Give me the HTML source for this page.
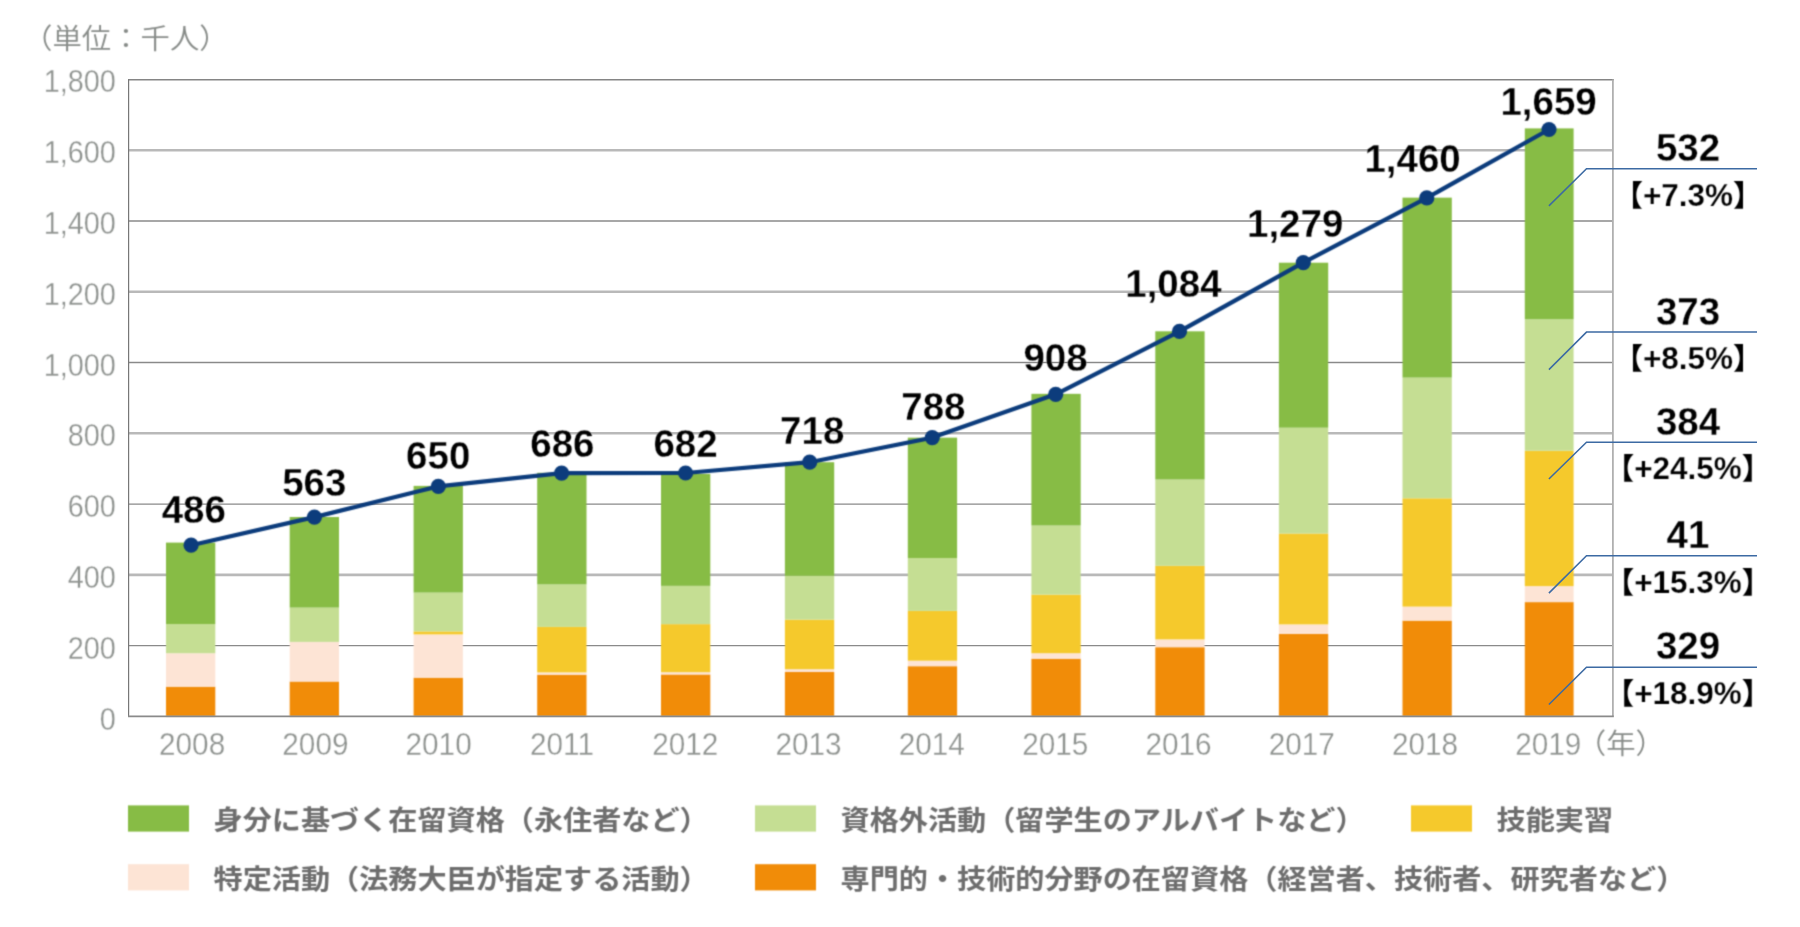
<!DOCTYPE html>
<html lang="ja"><head><meta charset="utf-8">
<style>html,body{margin:0;padding:0;background:#fff}body{width:1800px;height:927px;overflow:hidden;font-family:"Liberation Sans", "Noto Sans CJK JP", sans-serif}svg{display:block}text{font-family:"Liberation Sans", "Noto Sans CJK JP", sans-serif}
.ax{font-size:31.5px;font-weight:400;fill:#8e928f;stroke:#fff;stroke-width:.3px}.cj{font-size:29.4px;font-weight:350;fill:#878b88}.tot{font-size:38.5px;font-weight:700;fill:#000;stroke:#fff;stroke-width:.28px}.pct{font-size:29.5px;font-weight:700;fill:#000}.pct tspan{font-size:31.5px;stroke:#fff;stroke-width:.25px}.lg{font-size:29.15px;font-weight:700;fill:#6e6e6e}
</style></head><body>
<svg width="1800" height="927" viewBox="0 0 1800 927">
<defs><filter id="soft" x="0" y="0" width="1800" height="927" filterUnits="userSpaceOnUse" color-interpolation-filters="sRGB"><feConvolveMatrix order="3" kernelMatrix="1 3 1 3 9 3 1 3 1" divisor="25" edgeMode="duplicate" preserveAlpha="false"/></filter></defs>
<rect width="1800" height="927" fill="#fff"/>
<line x1="128.6" x2="1612.9" y1="645.63" y2="645.63" stroke="#8a8a8a" stroke-width="1.4"/>
<line x1="128.6" x2="1612.9" y1="574.86" y2="574.86" stroke="#b9b9b9" stroke-width="2.6"/>
<line x1="128.6" x2="1612.9" y1="504.09" y2="504.09" stroke="#8a8a8a" stroke-width="1.4"/>
<line x1="128.6" x2="1612.9" y1="433.32" y2="433.32" stroke="#b9b9b9" stroke-width="2.6"/>
<line x1="128.6" x2="1612.9" y1="362.55" y2="362.55" stroke="#8a8a8a" stroke-width="1.4"/>
<line x1="128.6" x2="1612.9" y1="291.78" y2="291.78" stroke="#b9b9b9" stroke-width="2.6"/>
<line x1="128.6" x2="1612.9" y1="221.01" y2="221.01" stroke="#8a8a8a" stroke-width="1.4"/>
<line x1="128.6" x2="1612.9" y1="150.24" y2="150.24" stroke="#b9b9b9" stroke-width="2.6"/>
<line x1="128.0" x2="1613.8" y1="79.87" y2="79.87" stroke="#858585" stroke-width="1.5"/>
<line x1="128.6" x2="128.6" y1="79.47" y2="716.40" stroke="#777" stroke-width="1.2"/>
<line x1="1612.9" x2="1612.9" y1="79.47" y2="716.40" stroke="#b0b0b0" stroke-width="1.8"/>
<g filter="url(#soft)">
<rect x="166.0" y="686.70" width="49.3" height="29.70" fill="#f18c08"/>
<rect x="166.0" y="653.20" width="49.3" height="33.50" fill="#fde4d5"/>
<rect x="166.0" y="624.10" width="49.3" height="29.10" fill="#c5de93"/>
<rect x="166.0" y="542.60" width="49.3" height="81.50" fill="#87bc45"/>
<rect x="289.7" y="681.50" width="49.3" height="34.90" fill="#f18c08"/>
<rect x="289.7" y="641.90" width="49.3" height="39.60" fill="#fde4d5"/>
<rect x="289.7" y="607.60" width="49.3" height="34.30" fill="#c5de93"/>
<rect x="289.7" y="517.00" width="49.3" height="90.60" fill="#87bc45"/>
<rect x="413.6" y="677.70" width="49.3" height="38.70" fill="#f18c08"/>
<rect x="413.6" y="634.40" width="49.3" height="43.30" fill="#fde4d5"/>
<rect x="413.6" y="631.40" width="49.3" height="3.00" fill="#f5c92c"/>
<rect x="413.6" y="592.60" width="49.3" height="38.80" fill="#c5de93"/>
<rect x="413.6" y="485.90" width="49.3" height="106.70" fill="#87bc45"/>
<rect x="537.2" y="674.70" width="49.3" height="41.70" fill="#f18c08"/>
<rect x="537.2" y="672.40" width="49.3" height="2.30" fill="#fde4d5"/>
<rect x="537.2" y="626.90" width="49.3" height="45.50" fill="#f5c92c"/>
<rect x="537.2" y="584.40" width="49.3" height="42.50" fill="#c5de93"/>
<rect x="537.2" y="472.80" width="49.3" height="111.60" fill="#87bc45"/>
<rect x="661.0" y="674.45" width="49.3" height="41.95" fill="#f18c08"/>
<rect x="661.0" y="672.20" width="49.3" height="2.25" fill="#fde4d5"/>
<rect x="661.0" y="624.15" width="49.3" height="48.05" fill="#f5c92c"/>
<rect x="661.0" y="585.85" width="49.3" height="38.30" fill="#c5de93"/>
<rect x="661.0" y="473.90" width="49.3" height="111.95" fill="#87bc45"/>
<rect x="784.9" y="671.95" width="49.3" height="44.45" fill="#f18c08"/>
<rect x="784.9" y="669.20" width="49.3" height="2.75" fill="#fde4d5"/>
<rect x="784.9" y="619.60" width="49.3" height="49.60" fill="#f5c92c"/>
<rect x="784.9" y="575.85" width="49.3" height="43.75" fill="#c5de93"/>
<rect x="784.9" y="462.20" width="49.3" height="113.65" fill="#87bc45"/>
<rect x="907.8" y="666.20" width="49.3" height="50.20" fill="#f18c08"/>
<rect x="907.8" y="660.70" width="49.3" height="5.50" fill="#fde4d5"/>
<rect x="907.8" y="610.90" width="49.3" height="49.80" fill="#f5c92c"/>
<rect x="907.8" y="558.10" width="49.3" height="52.80" fill="#c5de93"/>
<rect x="907.8" y="437.65" width="49.3" height="120.45" fill="#87bc45"/>
<rect x="1031.4" y="658.70" width="49.3" height="57.70" fill="#f18c08"/>
<rect x="1031.4" y="653.20" width="49.3" height="5.50" fill="#fde4d5"/>
<rect x="1031.4" y="594.60" width="49.3" height="58.60" fill="#f5c92c"/>
<rect x="1031.4" y="525.50" width="49.3" height="69.10" fill="#c5de93"/>
<rect x="1031.4" y="393.85" width="49.3" height="131.65" fill="#87bc45"/>
<rect x="1155.3" y="647.20" width="49.3" height="69.20" fill="#f18c08"/>
<rect x="1155.3" y="639.40" width="49.3" height="7.80" fill="#fde4d5"/>
<rect x="1155.3" y="565.80" width="49.3" height="73.60" fill="#f5c92c"/>
<rect x="1155.3" y="479.50" width="49.3" height="86.30" fill="#c5de93"/>
<rect x="1155.3" y="331.30" width="49.3" height="148.20" fill="#87bc45"/>
<rect x="1278.9" y="633.90" width="49.3" height="82.50" fill="#f18c08"/>
<rect x="1278.9" y="624.40" width="49.3" height="9.50" fill="#fde4d5"/>
<rect x="1278.9" y="533.50" width="49.3" height="90.90" fill="#f5c92c"/>
<rect x="1278.9" y="427.70" width="49.3" height="105.80" fill="#c5de93"/>
<rect x="1278.9" y="262.70" width="49.3" height="165.00" fill="#87bc45"/>
<rect x="1402.5" y="620.60" width="49.3" height="95.80" fill="#f18c08"/>
<rect x="1402.5" y="606.60" width="49.3" height="14.00" fill="#fde4d5"/>
<rect x="1402.5" y="498.30" width="49.3" height="108.30" fill="#f5c92c"/>
<rect x="1402.5" y="377.60" width="49.3" height="120.70" fill="#c5de93"/>
<rect x="1402.5" y="197.65" width="49.3" height="179.95" fill="#87bc45"/>
<rect x="1524.8" y="602.10" width="48.8" height="114.30" fill="#f18c08"/>
<rect x="1524.8" y="586.10" width="48.8" height="16.00" fill="#fde4d5"/>
<rect x="1524.8" y="450.70" width="48.8" height="135.40" fill="#f5c92c"/>
<rect x="1524.8" y="319.30" width="48.8" height="131.40" fill="#c5de93"/>
<rect x="1524.8" y="128.40" width="48.8" height="190.90" fill="#87bc45"/>
<polyline points="191.1,545.2 314.4,517.1 438.3,486.4 561.6,473.1 685.6,473.0 809.7,462.2 932.3,437.6 1055.7,394.3 1179.5,331.4 1303.3,262.6 1426.8,197.9 1549.0,129.5" fill="none" stroke="#0c3c7c" stroke-width="4.2" stroke-linejoin="round"/>
<circle cx="191.1" cy="545.2" r="7.6" fill="#0c3c7c"/>
<circle cx="314.4" cy="517.1" r="7.6" fill="#0c3c7c"/>
<circle cx="438.3" cy="486.4" r="7.6" fill="#0c3c7c"/>
<circle cx="561.6" cy="473.1" r="7.6" fill="#0c3c7c"/>
<circle cx="685.6" cy="473.0" r="7.6" fill="#0c3c7c"/>
<circle cx="809.7" cy="462.2" r="7.6" fill="#0c3c7c"/>
<circle cx="932.3" cy="437.6" r="7.6" fill="#0c3c7c"/>
<circle cx="1055.7" cy="394.3" r="7.6" fill="#0c3c7c"/>
<circle cx="1179.5" cy="331.4" r="7.6" fill="#0c3c7c"/>
<circle cx="1303.3" cy="262.6" r="7.6" fill="#0c3c7c"/>
<circle cx="1426.8" cy="197.9" r="7.6" fill="#0c3c7c"/>
<circle cx="1549.0" cy="129.5" r="7.6" fill="#0c3c7c"/>
<text class="ax" transform="translate(115.8,730.0) scale(0.915,1)" text-anchor="end">0</text>
<text class="ax" transform="translate(115.8,659.1) scale(0.915,1)" text-anchor="end">200</text>
<text class="ax" transform="translate(115.8,588.2) scale(0.915,1)" text-anchor="end">400</text>
<text class="ax" transform="translate(115.8,517.3) scale(0.915,1)" text-anchor="end">600</text>
<text class="ax" transform="translate(115.8,446.4) scale(0.915,1)" text-anchor="end">800</text>
<text class="ax" transform="translate(115.8,375.5) scale(0.915,1)" text-anchor="end">1,000</text>
<text class="ax" transform="translate(115.8,304.6) scale(0.915,1)" text-anchor="end">1,200</text>
<text class="ax" transform="translate(115.8,233.7) scale(0.915,1)" text-anchor="end">1,400</text>
<text class="ax" transform="translate(115.8,162.8) scale(0.915,1)" text-anchor="end">1,600</text>
<text class="ax" transform="translate(115.8,91.9) scale(0.915,1)" text-anchor="end">1,800</text>
<text class="ax" transform="translate(192.1,754.9) scale(0.944,1)" text-anchor="middle">2008</text>
<text class="ax" transform="translate(315.4,754.9) scale(0.944,1)" text-anchor="middle">2009</text>
<text class="ax" transform="translate(438.6,754.9) scale(0.944,1)" text-anchor="middle">2010</text>
<text class="ax" transform="translate(562.0,754.9) scale(0.944,1)" text-anchor="middle">2011</text>
<text class="ax" transform="translate(685.2,754.9) scale(0.944,1)" text-anchor="middle">2012</text>
<text class="ax" transform="translate(808.5,754.9) scale(0.944,1)" text-anchor="middle">2013</text>
<text class="ax" transform="translate(931.8,754.9) scale(0.944,1)" text-anchor="middle">2014</text>
<text class="ax" transform="translate(1055.2,754.9) scale(0.944,1)" text-anchor="middle">2015</text>
<text class="ax" transform="translate(1178.5,754.9) scale(0.944,1)" text-anchor="middle">2016</text>
<text class="ax" transform="translate(1301.8,754.9) scale(0.944,1)" text-anchor="middle">2017</text>
<text class="ax" transform="translate(1425.0,754.9) scale(0.944,1)" text-anchor="middle">2018</text>
<text class="ax" transform="translate(1548.3,754.9) scale(0.944,1)" text-anchor="middle">2019</text>
<text class="cj" transform="translate(1576.8,753.6) scale(1,0.955)">（年）</text>
<text class="cj" transform="translate(23,48.5) scale(1,0.955)">（単位：千人）</text>
<text class="tot" x="193.8" y="522.7" text-anchor="middle">486</text>
<text class="tot" x="314.3" y="496.4" text-anchor="middle">563</text>
<text class="tot" x="438.2" y="469.3" text-anchor="middle">650</text>
<text class="tot" x="562.4" y="456.9" text-anchor="middle">686</text>
<text class="tot" x="685.5" y="456.9" text-anchor="middle">682</text>
<text class="tot" x="812.2" y="444.4" text-anchor="middle">718</text>
<text class="tot" x="933.4" y="420.1" text-anchor="middle">788</text>
<text class="tot" x="1055.5" y="370.7" text-anchor="middle">908</text>
<text class="tot" x="1173.4" y="297.1" text-anchor="middle">1,084</text>
<text class="tot" x="1295.2" y="237.4" text-anchor="middle">1,279</text>
<text class="tot" x="1412.6" y="171.9" text-anchor="middle">1,460</text>
<text class="tot" x="1548.6" y="115.0" text-anchor="middle">1,659</text>
<text class="tot" x="1688" y="161.1" text-anchor="middle">532</text>
<text class="pct" x="1688" y="205.7" text-anchor="middle">【<tspan>+7.3%</tspan>】</text>
<text class="tot" x="1688" y="324.5" text-anchor="middle">373</text>
<text class="pct" x="1688" y="369.1" text-anchor="middle">【<tspan>+8.5%</tspan>】</text>
<text class="tot" x="1688" y="434.6" text-anchor="middle">384</text>
<text class="pct" x="1688" y="479.2" text-anchor="middle">【<tspan>+24.5%</tspan>】</text>
<text class="tot" x="1688" y="548.2" text-anchor="middle">41</text>
<text class="pct" x="1688" y="592.8" text-anchor="middle">【<tspan>+15.3%</tspan>】</text>
<text class="tot" x="1688" y="658.7" text-anchor="middle">329</text>
<text class="pct" x="1688" y="704.2" text-anchor="middle">【<tspan>+18.9%</tspan>】</text>
<rect x="128.0" y="805.4" width="61" height="26.2" fill="#87bc45"/>
<text class="lg" transform="translate(213.6,829.7) scale(1,0.94)">身分に基づく在留資格（永住者など）</text>
<rect x="755.0" y="805.4" width="61" height="26.2" fill="#c5de93"/>
<text class="lg" transform="translate(840.6,829.7) scale(1,0.94)">資格外活動（留学生のアルバイトなど）</text>
<rect x="1411.0" y="805.4" width="61" height="26.2" fill="#f5c92c"/>
<text class="lg" transform="translate(1496.6,829.7) scale(1,0.94)">技能実習</text>
<rect x="128.0" y="864.2" width="61" height="26.2" fill="#fde4d5"/>
<text class="lg" transform="translate(213.6,889.2) scale(1,0.94)">特定活動（法務大臣が指定する活動）</text>
<rect x="755.0" y="864.2" width="61" height="26.2" fill="#f18c08"/>
<text class="lg" transform="translate(840.6,889.2) scale(1,0.94)">専門的・技術的分野の在留資格（経営者、技術者、研究者など）</text>
</g>
<polyline points="1548.9,205.9 1586.5,168.7 1757,168.7" fill="none" stroke="#3c6aa3" stroke-width="1.5"/>
<polyline points="1548.9,369.6 1586.5,332.1 1757,332.1" fill="none" stroke="#3c6aa3" stroke-width="1.5"/>
<polyline points="1548.9,479.0 1586.5,442.2 1757,442.2" fill="none" stroke="#3c6aa3" stroke-width="1.5"/>
<polyline points="1548.9,593.1 1586.5,555.8 1757,555.8" fill="none" stroke="#3c6aa3" stroke-width="1.5"/>
<polyline points="1548.9,704.5 1586.5,667.2 1757,667.2" fill="none" stroke="#3c6aa3" stroke-width="1.5"/>
<line x1="128.0" x2="1613.8" y1="716.40" y2="716.40" stroke="#8a8a8a" stroke-width="1.6"/>
</svg></body></html>
